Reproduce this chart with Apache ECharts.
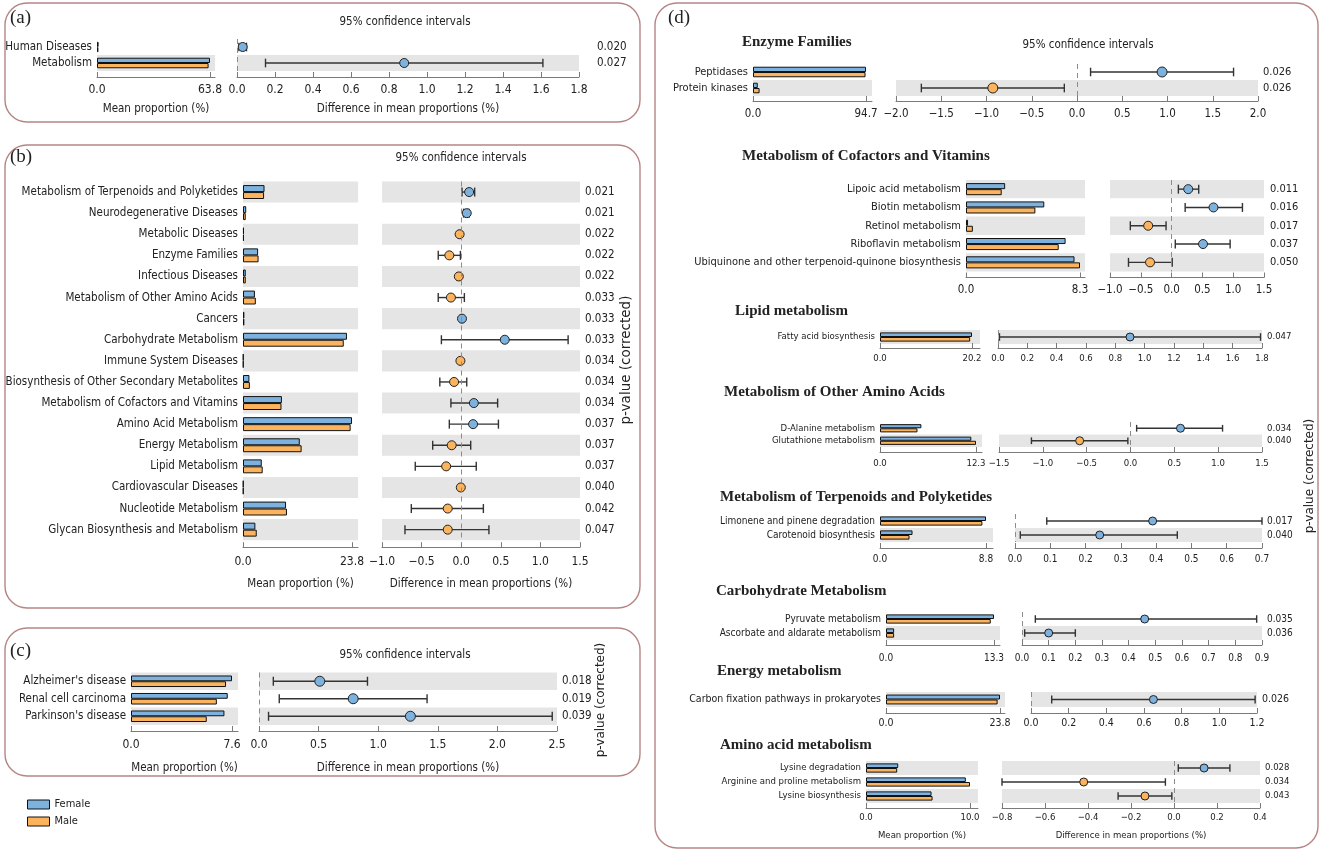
<!DOCTYPE html>
<html><head><meta charset="utf-8">
<script src="https://cdn.jsdelivr.net/npm/echarts@6/dist/echarts.min.js"></script>
<style>html,body{margin:0;padding:0;background:#fff}#c{width:1325px;height:854px}</style>
</head><body><div id="c"></div><script>
// ---------- DATA ----------
// (a)
const a_cats = ['Human Diseases', 'Metabolism'];
const a_female = [0.9, 63.8];
const a_male = [0.8, 63.0];
const a_diff = [0.03, 0.88];
const a_lo = [0.01, 0.15];
const a_hi = [0.05, 1.61];
const a_p = ['0.020', '0.027'];
const a_ci = [0, 1.8, 0.2];

// (b)
const b_cats = ['Metabolism of Terpenoids and Polyketides', 'Neurodegenerative Diseases', 'Metabolic Diseases', 'Enzyme Families', 'Infectious Diseases', 'Metabolism of Other Amino Acids', 'Cancers', 'Carbohydrate Metabolism', 'Immune System Diseases', 'Biosynthesis of Other Secondary Metabolites', 'Metabolism of Cofactors and Vitamins', 'Amino Acid Metabolism', 'Energy Metabolism', 'Lipid Metabolism', 'Cardiovascular Diseases', 'Nucleotide Metabolism', 'Glycan Biosynthesis and Metabolism'];
const b_female = [4.7, 0.7, 0.2, 3.3, 0.6, 2.6, 0.3, 22.7, 0.1, 1.4, 8.5, 23.8, 12.4, 4.1, 0.1, 9.4, 2.7];
const b_male = [4.6, 0.6, 0.2, 3.4, 0.6, 2.8, 0.3, 22.0, 0.1, 1.5, 8.4, 23.5, 12.8, 4.3, 0.1, 9.6, 3.0];
const b_diff = [0.10, 0.07, -0.02, -0.15, -0.03, -0.13, 0.01, 0.55, -0.01, -0.09, 0.16, 0.15, -0.12, -0.19, -0.005, -0.17, -0.17];
const b_lo = [0.01, 0.03, -0.03, -0.29, -0.05, -0.29, 0.00, -0.25, -0.02, -0.27, -0.13, -0.15, -0.36, -0.58, -0.01, -0.63, -0.71];
const b_hi = [0.17, 0.10, -0.01, -0.01, -0.01, 0.04, 0.02, 1.35, 0.00, 0.07, 0.46, 0.47, 0.12, 0.19, 0.00, 0.28, 0.35];
const b_p = ['0.021', '0.021', '0.022', '0.022', '0.022', '0.033', '0.033', '0.033', '0.034', '0.034', '0.034', '0.037', '0.037', '0.037', '0.040', '0.042', '0.047'];
const b_ci = [-1.0, 1.5, 0.5];

// (c)
const c_cats = ["Alzheimer's disease", 'Renal cell carcinoma', "Parkinson's disease"];
const c_female = [7.6, 7.28, 7.03];
const c_male = [7.15, 6.46, 5.70];
const c_diff = [0.51, 0.79, 1.27];
const c_lo = [0.12, 0.17, 0.08];
const c_hi = [0.91, 1.41, 2.46];
const c_p = ['0.018', '0.019', '0.039'];
const c_ci = [0, 2.5, 0.5];

// (d) Enzyme Families
const d1_cats = ['Peptidases', 'Protein kinases'];
const d1_female = [94.7, 4.0];
const d1_male = [94.3, 5.5];
const d1_diff = [0.94, -0.93];
const d1_lo = [0.15, -1.72];
const d1_hi = [1.73, -0.14];
const d1_p = ['0.026', '0.026'];
const d1_ci = [-2.0, 2.0, 0.5];

// (d) Metabolism of Cofactors and Vitamins
const d2_cats = ['Lipoic acid metabolism', 'Biotin metabolism', 'Retinol metabolism', 'Riboflavin metabolism', 'Ubiquinone and other terpenoid-quinone biosynthesis'];
const d2_female = [2.85, 5.7, 0.15, 7.25, 7.9];
const d2_male = [2.6, 5.05, 0.5, 6.75, 8.3];
const d2_diff = [0.27, 0.68, -0.38, 0.51, -0.35];
const d2_lo = [0.11, 0.22, -0.67, 0.06, -0.70];
const d2_hi = [0.44, 1.15, -0.09, 0.95, 0.01];
const d2_p = ['0.011', '0.016', '0.017', '0.037', '0.050'];
const d2_ci = [-1.0, 1.5, 0.5];

// (d) Lipid metabolism
const d3_cats = ['Fatty acid biosynthesis'];
const d3_female = [20.2];
const d3_male = [19.8];
const d3_diff = [0.90];
const d3_lo = [0.01];
const d3_hi = [1.79];
const d3_p = ['0.047'];
const d3_ci = [0, 1.8, 0.2];

// (d) Metabolism of Other Amino Acids
const d4_cats = ['D-Alanine metabolism', 'Glutathione metabolism'];
const d4_female = [5.3, 11.7];
const d4_male = [4.8, 12.3];
const d4_diff = [0.57, -0.58];
const d4_lo = [0.07, -1.13];
const d4_hi = [1.05, -0.03];
const d4_p = ['0.034', '0.040'];
const d4_ci = [-1.5, 1.5, 0.5];

// (d) Metabolism of Terpenoids and Polyketides
const d5_cats = ['Limonene and pinene degradation', 'Carotenoid biosynthesis'];
const d5_female = [8.8, 2.7];
const d5_male = [8.5, 2.45];
const d5_diff = [0.39, 0.24];
const d5_lo = [0.09, 0.015];
const d5_hi = [0.70, 0.46];
const d5_p = ['0.017', '0.040'];
const d5_ci = [0, 0.7, 0.1];

// (d) Carbohydrate Metabolism
const d6_cats = ['Pyruvate metabolism', 'Ascorbate and aldarate metabolism'];
const d6_female = [13.3, 1.0];
const d6_male = [12.9, 1.0];
const d6_diff = [0.46, 0.10];
const d6_lo = [0.05, 0.01];
const d6_hi = [0.88, 0.20];
const d6_p = ['0.035', '0.036'];
const d6_ci = [0, 0.9, 0.1];

// (d) Energy metabolism
const d7_cats = ['Carbon fixation pathways in prokaryotes'];
const d7_female = [23.8];
const d7_male = [23.3];
const d7_diff = [0.65];
const d7_lo = [0.11];
const d7_hi = [1.19];
const d7_p = ['0.026'];
const d7_ci = [0, 1.2, 0.2];

// (d) Amino acid metabolism
const d8_cats = ['Lysine degradation', 'Arginine and proline metabolism', 'Lysine biosynthesis'];
const d8_female = [3.1, 9.6, 6.3];
const d8_male = [3.0, 10.0, 6.4];
const d8_diff = [0.14, -0.42, -0.135];
const d8_lo = [0.02, -0.80, -0.26];
const d8_hi = [0.26, -0.04, -0.01];
const d8_p = ['0.028', '0.034', '0.043'];
const d8_ci = [-0.8, 0.4, 0.2];

const groupNames = ['Female', 'Male'];
const txtCI = '95% confidence intervals';
const txtMean = 'Mean proportion (%)';
const txtDiff = 'Difference in mean proportions (%)';
const txtP = 'p-value (corrected)';

// ---------- STYLE / LAYOUT ----------
const BLUE = '#7db2df', ORANGE = '#fbb35d', GRAY = '#e5e5e5', AXC = '#7a7a7a', TXT = '#222';
const FONT = "'DejaVu Sans Condensed', 'Liberation Sans Narrow', 'DejaVu Sans', sans-serif";
const SERIF = "'Liberation Serif', 'DejaVu Serif', serif";

const panels = [
  {cats:a_cats, f:a_female, m:a_male, d:a_diff, lo:a_lo, hi:a_hi, p:a_p, ci:a_ci,
   L:{bx0:97, bxT:210, bxE:215, cx0:237, cx1:579, top:39, rowH:16, off:6, fs:11.5, lfs:12, lm:7, sym:9, pGap:18, names:true, nameGap:26}},
  {cats:b_cats, f:b_female, m:b_male, d:b_diff, lo:b_lo, hi:b_hi, p:b_p, ci:b_ci,
   L:{bx0:243, bxT:352, bxE:358, cx0:382, cx1:580, top:181.5, rowH:21.1, off:7, fs:11.5, lfs:12, lm:9, sym:9, pGap:5, names:true, nameGap:31}},
  {cats:c_cats, f:c_female, m:c_male, d:c_diff, lo:c_lo, hi:c_hi, p:c_p, ci:c_ci,
   L:{bx0:131, bxT:232, bxE:238, cx0:259, cx1:557, top:672.5, rowH:17.5, off:6, fs:11.5, lfs:12, lm:8, sym:10, pGap:5, names:true, nameGap:31}},
  {cats:d1_cats, f:d1_female, m:d1_male, d:d1_diff, lo:d1_lo, hi:d1_hi, p:d1_p, ci:d1_ci,
   L:{bx0:753, bxT:866, bxE:872, cx0:896, cx1:1258, top:64, rowH:16, off:5, fs:11, lfs:11.5, lm:7, sym:10, pGap:5}},
  {cats:d2_cats, f:d2_female, m:d2_male, d:d2_diff, lo:d2_lo, hi:d2_hi, p:d2_p, ci:d2_ci,
   L:{bx0:966, bxT:1080, bxE:1085, cx0:1110, cx1:1264, top:180, rowH:18.3, off:6, fs:11, lfs:11.5, lm:7, sym:9, pGap:6}},
  {cats:d3_cats, f:d3_female, m:d3_male, d:d3_diff, lo:d3_lo, hi:d3_hi, p:d3_p, ci:d3_ci,
   L:{bx0:880, bxT:972, bxE:980, cx0:998, cx1:1262, top:330, rowH:14, off:4, fs:9.5, lfs:9.5, lm:6, sym:8, pGap:5}},
  {cats:d4_cats, f:d4_female, m:d4_male, d:d4_diff, lo:d4_lo, hi:d4_hi, p:d4_p, ci:d4_ci,
   L:{bx0:880, bxT:976, bxE:982, cx0:999, cx1:1262, top:422, rowH:12.5, off:5, fs:9.5, lfs:9.5, lm:7, sym:8, pGap:5}},
  {cats:d5_cats, f:d5_female, m:d5_male, d:d5_diff, lo:d5_lo, hi:d5_hi, p:d5_p, ci:d5_ci,
   L:{bx0:880, bxT:986, bxE:993, cx0:1015, cx1:1262, top:514, rowH:14, off:6, fs:10, lfs:10, lm:6, sym:8, pGap:5}},
  {cats:d6_cats, f:d6_female, m:d6_male, d:d6_diff, lo:d6_lo, hi:d6_hi, p:d6_p, ci:d6_ci,
   L:{bx0:886, bxT:994, bxE:1000, cx0:1022, cx1:1262, top:612, rowH:14, off:5, fs:10, lfs:10, lm:8, sym:8, pGap:5}},
  {cats:d7_cats, f:d7_female, m:d7_male, d:d7_diff, lo:d7_lo, hi:d7_hi, p:d7_p, ci:d7_ci,
   L:{bx0:886, bxT:1000, bxE:1005, cx0:1031, cx1:1257, top:692, rowH:15, off:6, fs:10.5, lfs:10.5, lm:5, sym:8, pGap:5}},
  {cats:d8_cats, f:d8_female, m:d8_male, d:d8_diff, lo:d8_lo, hi:d8_hi, p:d8_p, ci:d8_ci,
   L:{bx0:866, bxT:970, bxE:978, cx0:1002, cx1:1260, top:761, rowH:14, off:5, fs:9.5, lfs:9.5, lm:5, sym:8, pGap:5, names:true, nameGap:23}}
];

function fmt(v) {
  const r = Math.round(v * 10) / 10;
  if (Math.abs(r) < 1e-9) return '0.0';
  return (r < 0 ? '\u2212' : '') + Math.abs(r).toFixed(1);
}

const grids = [], xAxes = [], yAxes = [], series = [];
panels.forEach(pd => {
  const L = pd.L;
  const n = pd.cats.length;
  const h = n * L.rowH;
  const barMax = Math.max(...pd.f, ...pd.m);
  const gi = grids.length;
  grids.push({left: L.bx0, top: L.top, width: L.bxE - L.bx0, height: h, outerBoundsMode: 'none', containLabel: false});
  grids.push({left: L.cx0, top: L.top, width: L.cx1 - L.cx0, height: h, outerBoundsMode: 'none', containLabel: false});
  const split = {show: true, interval: 0, areaStyle: {color: (n % 2) ? [GRAY, 'rgba(0,0,0,0)'] : ['rgba(0,0,0,0)', GRAY]}};
  const nameStyle = {fontSize: L.fs, color: TXT, fontFamily: FONT};
  const labStyle = {fontSize: L.lfs, color: TXT, fontFamily: FONT};
  const catStyle = {fontSize: L.fs, color: TXT, fontFamily: FONT};

  const xb = xAxes.length;
  xAxes.push({
    type: 'value', gridIndex: gi, min: 0, max: barMax * (L.bxE - L.bx0) / (L.bxT - L.bx0),
    offset: L.off, position: 'bottom',
    axisLine: {show: true, lineStyle: {color: AXC, width: 1}},
    axisTick: {show: true, inside: true, length: 5, customValues: [0, barMax], lineStyle: {color: AXC}},
    axisLabel: Object.assign({customValues: [0, barMax], formatter: v => fmt(v), margin: L.lm}, labStyle),
    splitLine: {show: false},
    name: L.names ? txtMean : '', nameLocation: 'middle', nameGap: L.nameGap || 20, nameTextStyle: nameStyle
  });
  const xc = xAxes.length;
  xAxes.push({
    type: 'value', gridIndex: gi + 1, min: pd.ci[0], max: pd.ci[1], interval: pd.ci[2],
    offset: L.off, position: 'bottom',
    axisLine: {show: true, lineStyle: {color: AXC, width: 1}},
    axisTick: {show: true, inside: true, length: 5, lineStyle: {color: AXC}},
    axisLabel: Object.assign({formatter: v => fmt(v), margin: L.lm, showMinLabel: true, showMaxLabel: true}, labStyle),
    splitLine: {show: false},
    name: L.names ? txtDiff : '', nameLocation: 'middle', nameGap: L.nameGap || 20, nameTextStyle: nameStyle
  });
  const yb = yAxes.length;
  yAxes.push({
    type: 'category', gridIndex: gi, data: pd.cats, inverse: true,
    axisLine: {show: false}, axisTick: {show: false, interval: 0},
    axisLabel: Object.assign({margin: 5, interval: 0}, catStyle), splitArea: split
  });
  const yc = yAxes.length;
  yAxes.push({
    type: 'category', gridIndex: gi + 1, data: pd.cats, inverse: true,
    axisLine: {show: false}, axisTick: {show: false, interval: 0}, axisLabel: {show: false, interval: 0}, splitArea: split
  });
  yAxes.push({
    type: 'category', gridIndex: gi + 1, data: pd.p, inverse: true, position: 'right',
    axisLine: {show: false}, axisTick: {show: false},
    axisLabel: Object.assign({margin: L.pGap, interval: 0}, catStyle)
  });

  [pd.f, pd.m].forEach((vals, s) => {
    series.push({
      type: 'bar', name: groupNames[s], xAxisIndex: xb, yAxisIndex: yb, data: vals,
      barGap: '0%', barCategoryGap: '34%', silent: true,
      itemStyle: {color: s === 0 ? BLUE : ORANGE, borderColor: '#111', borderWidth: 1}
    });
  });
  const cap = Math.min(4.5, L.rowH * 0.27);
  series.push({
    type: 'custom', xAxisIndex: xc, yAxisIndex: yc, silent: true, z: 3,
    data: pd.lo.map((l, i) => [l, pd.hi[i], i]),
    encode: {x: [0, 1], y: 2},
    renderItem: (params, api) => {
      const yi = api.value(2);
      const p0 = api.coord([api.value(0), yi]);
      const p1 = api.coord([api.value(1), yi]);
      const st = {stroke: '#333', lineWidth: 1.4};
      return {type: 'group', children: [
        {type: 'line', shape: {x1: p0[0], y1: p0[1], x2: p1[0], y2: p1[1]}, style: st},
        {type: 'line', shape: {x1: p0[0], y1: p0[1] - cap, x2: p0[0], y2: p0[1] + cap}, style: st},
        {type: 'line', shape: {x1: p1[0], y1: p1[1] - cap, x2: p1[0], y2: p1[1] + cap}, style: st}
      ]};
    }
  });
  series.push({
    type: 'scatter', xAxisIndex: xc, yAxisIndex: yc, silent: true, z: 4,
    symbolSize: L.sym,
    data: pd.d.map((v, i) => [v, i]),
    itemStyle: {color: p => (p.value[0] > 0 ? BLUE : ORANGE), borderColor: '#222', borderWidth: 1, opacity: 1},
    markLine: {silent: true, symbol: ['none', 'none'], label: {show: false}, animation: false,
      lineStyle: {color: '#8c8c8c', type: [5, 4], width: 1}, data: [{xAxis: 0}]}
  });
});

function txt(x, y, text, font, align, extra) {
  return Object.assign({type: 'text', x: x, y: y, silent: true,
    style: {text: text, font: font, fill: TXT, align: align || 'center', verticalAlign: 'middle',
            textAlign: align || 'center', textVerticalAlign: 'middle'}}, extra || {});
}
function box(x, y, w, h) {
  return {type: 'rect', silent: true, z: -10, shape: {x: x, y: y, width: w, height: h, r: 22},
    style: {fill: 'none', stroke: '#b58585', lineWidth: 1.4}};
}
const ciFont = '11.5px ' + FONT;
const letterFont = '19px ' + SERIF;
const headFont = 'bold 15px ' + SERIF;
const pFont = '12px ' + "'DejaVu Sans', sans-serif";
const pFontB = '13.5px ' + "'DejaVu Sans', sans-serif";

const graphics = [
  box(5, 3, 635, 119), box(5, 145, 635, 463), box(5, 628, 635, 148), box(655, 3, 663, 845),
  txt(10, 18, '(a)', letterFont, 'left'), txt(10, 157, '(b)', letterFont, 'left'),
  txt(10, 651, '(c)', letterFont, 'left'), txt(668, 18, '(d)', letterFont, 'left'),
  txt(405, 22, txtCI, ciFont), txt(461, 158, txtCI, ciFont), txt(405, 655, txtCI, ciFont), txt(1088, 45, txtCI, ciFont),
  txt(742, 42, 'Enzyme Families', headFont, 'left'),
  txt(742, 156, 'Metabolism of Cofactors and Vitamins', headFont, 'left'),
  txt(735, 311, 'Lipid metabolism', headFont, 'left'),
  txt(724, 392, 'Metabolism of Other Amino Acids', headFont, 'left'),
  txt(720, 497, 'Metabolism of Terpenoids and Polyketides', headFont, 'left'),
  txt(716, 591, 'Carbohydrate Metabolism', headFont, 'left'),
  txt(717, 671, 'Energy metabolism', headFont, 'left'),
  txt(720, 745, 'Amino acid metabolism', headFont, 'left'),
  txt(626, 360, txtP, pFontB, 'center', {rotation: Math.PI / 2}),
  txt(601, 700, txtP, pFont, 'center', {rotation: Math.PI / 2}),
  txt(1310, 476, txtP, pFont, 'center', {rotation: Math.PI / 2})
];

const chart = echarts.init(document.getElementById('c'), null, {renderer: 'canvas'});
chart.setOption({
  backgroundColor: '#fff',
  animation: false,
  textStyle: {fontFamily: FONT, color: TXT},
  legend: {
    data: groupNames, orient: 'vertical', left: 22, top: 794, itemWidth: 22, itemHeight: 9, itemGap: 6,
    icon: 'rect', selectedMode: false,
    textStyle: {fontSize: 11, color: TXT, fontFamily: FONT},
    itemStyle: {borderColor: '#111', borderWidth: 1}
  },
  tooltip: {show: false},
  grid: grids, xAxis: xAxes, yAxis: yAxes, series: series,
  graphic: graphics
});
</script></body></html>
